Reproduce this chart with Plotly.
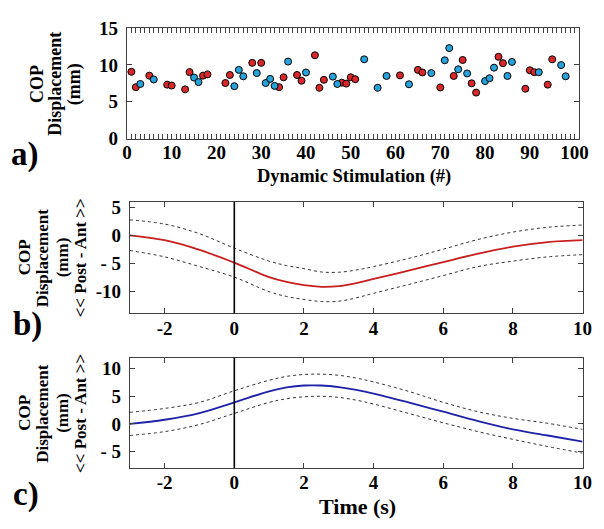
import plotly.graph_objects as go

# ---------------- data ----------------
# Panel a: COP displacement per dynamic stimulation
stim_red = [1, 2, 5, 9, 10, 13, 14, 17, 18, 22, 23, 28, 30, 34, 35, 38, 39, 42, 43, 44,
            48, 49, 50, 51, 61, 65, 66, 70, 73, 75, 77, 78, 83, 84, 89, 90, 91, 94, 95]
disp_red = [9.06, 6.98, 8.54, 7.32, 7.2, 6.68, 9.02, 8.54, 8.71, 7.54, 8.63, 10.27, 10.27,
            6.98, 8.32, 8.63, 7.85, 11.3, 6.89, 7.97, 7.59, 7.46, 8.32, 8.06, 8.58, 9.32,
            8.97, 6.94, 8.5, 10.66, 7.5, 6.24, 11.09, 10.23, 6.76, 9.27, 9.01, 7.32, 10.75]
stim_blue = [3, 6, 15, 16, 24, 25, 26, 29, 31, 32, 33, 36, 40, 46, 47, 53, 56, 58, 63, 68,
             71, 72, 74, 76, 80, 81, 82, 85, 86, 92, 97, 98]
disp_blue = [7.41, 8.02, 8.28, 7.67, 7.11, 9.32, 8.45, 8.89, 7.54, 8.1, 7.15, 10.45, 8.97,
             8.41, 7.41, 10.75, 6.89, 8.5, 7.37, 8.89, 10.62, 12.27, 9.4, 8.84, 7.8, 8.19,
             9.62, 8.5, 10.4, 9.01, 9.97, 8.45]

# Panels b and c: mean time course with +/- band
time_s = [-3, -2, -1, 0, 1, 1.5, 2, 2.5, 3, 3.5, 4, 5, 6, 7, 8, 9, 10]
b_mean = [0.03, -0.84, -2.57, -4.88, -7.48, -8.35, -8.93, -9.22, -9.1, -8.55, -7.8,
          -6.33, -4.77, -3.27, -1.99, -1.18, -0.84]
b_upper = [2.8, 2.05, 0.32, -2.28, -4.6, -5.4, -5.95, -6.55, -6.6, -6.2, -5.58,
           -4.13, -2.46, -0.72, 0.61, 1.47, 1.88]
b_lower = [-2.69, -3.84, -5.58, -7.48, -10.09, -10.95, -11.5, -11.85, -11.8, -11.2, -10.38,
           -8.81, -7.2, -5.58, -4.6, -3.84, -3.44]
c_mean = [0.0, 0.75, 1.95, 3.9, 5.9, 6.6, 6.95, 6.95, 6.65, 6.15, 5.5,
          3.9, 2.2, 0.5, -1.0, -2.1, -3.2]
c_upper = [2.1, 2.8, 3.9, 6.0, 7.9, 8.6, 8.95, 9.0, 8.8, 8.3, 7.6,
           5.9, 3.9, 2.2, 1.0, 0.1, -1.0]
c_lower = [-2.1, -1.4, -0.1, 1.9, 3.9, 4.55, 4.9, 5.0, 4.8, 4.3, 3.6,
           1.9, 0.2, -1.4, -2.8, -4.1, -5.3]
onset_time = 0

# tick labels
a_xtick_labeled = [0, 10, 20, 30, 40, 50, 60, 70, 80, 90, 100]
a_yticks = [0, 5, 10, 15]
bc_xticks = [-2, 0, 2, 4, 6, 8, 10]
bc_xticktext = ["-2", "0", "2", "4", "6", "8", "10"]
b_yticks = [-10, -5, 0, 5]
b_yticktext = ["-10", "- 5", "0", "5"]
c_yticks = [-5, 0, 5, 10]
c_yticktext = ["- 5", "0", "5", "10"]

# ---------------- styling / layout helpers ----------------
W, H = 604, 529
FONT = "Liberation Serif, Times New Roman, serif"
RED = "#d8282a"
BLUE = "#27a3dc"
LINE_RED = "#c81e1e"
LINE_BLUE = "#1f22a8"
AXCOL = "#404040"


def dx(l, r):
    return [l / W, r / W]


def dy(t, b):
    return [1 - b / H, 1 - t / H]


fig = go.Figure()

# panel a
fig.add_trace(go.Scatter(x=stim_red, y=disp_red, mode="markers", xaxis="x", yaxis="y",
                         marker=dict(color=RED, size=7, line=dict(color="black", width=1))))
fig.add_trace(go.Scatter(x=stim_blue, y=disp_blue, mode="markers", xaxis="x", yaxis="y",
                         marker=dict(color=BLUE, size=7, line=dict(color="black", width=1))))

# panel b
for arr in (b_upper, b_lower):
    fig.add_trace(go.Scatter(x=time_s, y=arr, mode="lines", xaxis="x2", yaxis="y2",
                             line=dict(color="#333333", width=1, dash="dot", shape="spline")))
fig.add_trace(go.Scatter(x=time_s, y=b_mean, mode="lines", xaxis="x2", yaxis="y2",
                         line=dict(color=LINE_RED, width=1.8, shape="spline")))
# panel c
for arr in (c_upper, c_lower):
    fig.add_trace(go.Scatter(x=time_s, y=arr, mode="lines", xaxis="x3", yaxis="y3",
                             line=dict(color="#333333", width=1, dash="dot", shape="spline")))
fig.add_trace(go.Scatter(x=time_s, y=c_mean, mode="lines", xaxis="x3", yaxis="y3",
                         line=dict(color=LINE_BLUE, width=1.8, shape="spline")))

tickfont = dict(family=FONT, size=19, color="black", weight="bold")
common = dict(showline=True, linecolor=AXCOL, linewidth=1, mirror="ticks", ticks="inside",
              tickcolor=AXCOL, tickwidth=1, ticklen=5, showgrid=False, zeroline=False,
              tickfont=tickfont, fixedrange=True)

a_xvals = list(range(0, 101))
a_xtext = [str(v) if v in a_xtick_labeled else "" for v in a_xvals]

fig.update_layout(
    width=W, height=H, margin=dict(l=0, r=0, t=0, b=0), showlegend=False,
    paper_bgcolor="white", plot_bgcolor="white",
    xaxis=dict(domain=dx(125, 588.7), range=[0, 101], anchor="y", tickmode="array",
               tickvals=a_xvals, ticktext=a_xtext, ticklabelstandoff=-3, **common),
    yaxis=dict(domain=dy(18.7, 134), range=[0, 15], anchor="x", tickmode="array",
               tickvals=a_yticks, ticklabelstandoff=4, **common),
    xaxis2=dict(domain=dx(128, 592.3), range=[-3, 10], anchor="y2", tickmode="array",
                tickvals=bc_xticks, ticktext=bc_xticktext, ticklabelstandoff=-2, **common),
    yaxis2=dict(domain=dy(200, 316), range=[-14, 6], anchor="x2", tickmode="array",
                tickvals=b_yticks, ticktext=b_yticktext, ticklabelstandoff=4, **common),
    xaxis3=dict(domain=dx(128, 592.3), range=[-3, 10], anchor="y3", tickmode="array",
                tickvals=bc_xticks, ticktext=bc_xticktext, ticklabelstandoff=-3, **common),
    yaxis3=dict(domain=dy(362, 477), range=[-8, 12], anchor="x3", tickmode="array",
                tickvals=c_yticks, ticktext=c_yticktext, ticklabelstandoff=4, **common),
)

# stimulus onset lines
for xr, yr in (("x2", "y2 domain"), ("x3", "y3 domain")):
    fig.add_shape(type="line", xref=xr, yref=yr, x0=onset_time, x1=onset_time, y0=0, y1=1,
                  line=dict(color="black", width=1.6))


def ann(text, x, y, size, angle=0):
    fig.add_annotation(text=text, x=x / W, y=1 - y / H, xref="paper", yref="paper",
                       showarrow=False, textangle=angle, xanchor="center", yanchor="middle",
                       font=dict(family=FONT, size=size, color="black", weight="bold"))


# y-axis titles (one annotation per line)
for t, xp in (("COP", 33), ("Displacement", 51), ("(mm)", 72)):
    ann(t, xp, 77, 18, -90)
for yc in (258, 420):
    for t, xp in (("COP", 20), ("Displacement", 38.5), ("(mm)", 59),
                  ("&lt;&lt; Post - Ant &gt;&gt;", 77.5)):
        ann(t, xp, yc, 17, -90)

# x-axis titles
ann("Dynamic Stimulation (#)", 358, 173, 18.5)
ann("Time (s)", 361, 517, 22)

# panel letters
ann("a)", 21, 150, 33)
ann("b)", 23, 328, 33)
ann("c)", 22, 505, 33)

fig.write_html("out.html", config={"displayModeBar": False},
               post_script="document.body.style.margin='0';document.body.style.overflow='hidden';")
